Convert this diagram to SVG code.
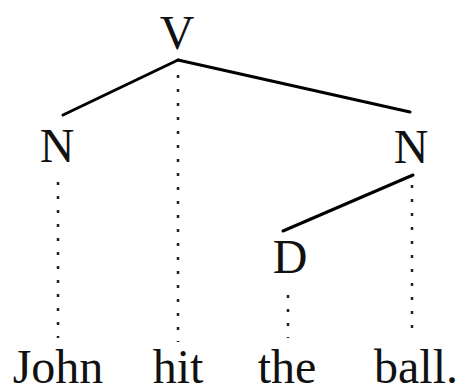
<svg xmlns="http://www.w3.org/2000/svg" width="459" height="392" viewBox="0 0 459 392">
<style>
text{font-family:"Liberation Serif","Times New Roman",serif;font-size:48px;fill:#111;text-anchor:middle}
.edge{stroke:#000;stroke-width:3;fill:none;stroke-linecap:round}
.dot{stroke:#222;stroke-width:2.5;fill:none;stroke-dasharray:3 11}
</style>
<rect width="459" height="392" fill="#fff"/>
<g id="connectors">
<line class="edge" x1="178" y1="60" x2="63" y2="115"/>
<line class="edge" x1="178" y1="60" x2="410" y2="112"/>
<line class="edge" x1="413" y1="175" x2="283" y2="231"/>
<line class="dot" x1="58" y1="182" x2="58" y2="338"/>
<line class="dot" x1="178" y1="75" x2="178" y2="342"/>
<line class="dot" x1="288" y1="295" x2="288" y2="338"/>
<line class="dot" x1="412" y1="185" x2="412" y2="338"/>
</g>
<g id="V"><text x="177" y="49">V</text></g>
<g id="N1"><text x="57" y="162">N</text></g>
<g id="N2"><text x="411" y="163">N</text></g>
<g id="D"><text x="290" y="273">D</text></g>
<g id="John"><text x="58" y="383">John</text></g>
<g id="hit"><text x="178" y="383">hit</text></g>
<g id="the"><text x="287" y="383">the</text></g>
<g id="ball"><text x="416" y="383">ball.</text></g>
</svg>
